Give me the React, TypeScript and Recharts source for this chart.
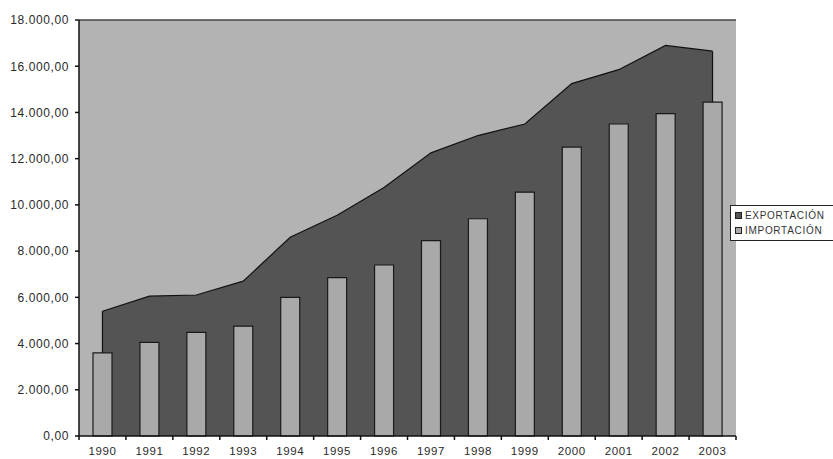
import {
  ComposedChart,
  Area,
  Bar,
  XAxis,
  YAxis,
  CartesianGrid,
  ReferenceLine,
  Legend
} from "recharts";

const years = [
  "1990", "1991", "1992", "1993", "1994", "1995", "1996",
  "1997", "1998", "1999", "2000", "2001", "2002", "2003"
];

const exportacion = [
  5400, 6050, 6100, 6700, 8600, 9550, 10750,
  12250, 13000, 13500, 15250, 15850, 16900, 16650
];

const importacion = [
  3600, 4050, 4480, 4750, 6000, 6850, 7400,
  8450, 9400, 10550, 12500, 13500, 13950, 14450
];

const yTicks = [0, 2000, 4000, 6000, 8000, 10000, 12000, 14000, 16000, 18000];

const data = years.map((year, i) => ({
  year,
  exportacion: exportacion[i],
  importacion: importacion[i]
}));

const FONT = "'Liberation Sans', Arial, sans-serif";
const BG = "#b3b3b3";
const DARK = "#545454";
const LIGHT = "#a9a9a9";
const INK = "#2a2a2a";

const CHART_W = 833;
const CHART_H = 459;
const MARGIN = { top: 20, right: 97, bottom: 0, left: 0 };
const Y_AXIS_W = 79;
const X_TICK_MARGIN = 11;
// width of one year slot, used for the marks at the slot edges
const SLOT = (CHART_W - MARGIN.left - MARGIN.right - Y_AXIS_W) / years.length;

// 12345.6 -> "12.345,60"
function formatNumber(value: number) {
  const [int, dec] = value.toFixed(2).split(".");
  return int.replace(/\B(?=(\d{3})+(?!\d))/g, ".") + "," + dec;
}

function YTick(props: any) {
  const { x, y, payload } = props;
  return (
    <text
      x={x}
      y={y}
      dy="0.36em"
      textAnchor="end"
      fill={INK}
      fontSize={12}
      fontFamily={FONT}
      letterSpacing={0.6}
    >
      {formatNumber(payload.value)}
    </text>
  );
}

function XTick(props: any) {
  const { x, y, payload, index } = props;
  const half = payload.offset > 0 ? payload.offset : SLOT / 2;
  const axisY = y - X_TICK_MARGIN;
  const edges = index === years.length - 1 ? [x - half, x + half] : [x - half];
  return (
    <g>
      {edges.map((ex) => (
        <line
          key={ex}
          x1={ex}
          x2={ex}
          y1={axisY}
          y2={axisY + 4}
          stroke="#111"
          strokeWidth={1.5}
        />
      ))}
      <text
        x={x}
        y={y}
        dy="0.71em"
        textAnchor="middle"
        fill={INK}
        fontSize={11.5}
        fontFamily={FONT}
        letterSpacing={0.6}
      >
        {payload.value}
      </text>
    </g>
  );
}

function LegendBox() {
  const items = [
    { name: "EXPORTACIÓN", color: DARK },
    { name: "IMPORTACIÓN", color: LIGHT }
  ];
  return (
    <div
      style={{
        border: "1px solid #222",
        background: "#fff",
        padding: "2px 0 2px 4px",
        width: 110,
        fontFamily: FONT,
        fontSize: 10,
        letterSpacing: 0.7,
        color: "#333"
      }}
    >
      {items.map((item) => (
        <div
          key={item.name}
          style={{ display: "flex", alignItems: "center", height: 15 }}
        >
          <span
            style={{
              display: "inline-block",
              width: 5,
              height: 5,
              background: item.color,
              border: "1px solid #222",
              marginRight: 3
            }}
          />
          {item.name}
        </div>
      ))}
    </div>
  );
}

export default function App() {
  return (
    <div style={{ position: "absolute", left: 0, top: 0, background: "#fff" }}>
      <ComposedChart
        width={CHART_W}
        height={CHART_H}
        data={data}
        margin={MARGIN}
      >
        <CartesianGrid
          fill={BG}
          horizontal={false}
          vertical={false}
        />
        <XAxis
          dataKey="year"
          height={23}
          tickSize={0}
          tickMargin={X_TICK_MARGIN}
          tickLine={false}
          axisLine={{ stroke: "#111", strokeWidth: 1.5 }}
          tick={XTick}
          interval={0}
        />
        <YAxis
          width={Y_AXIS_W}
          domain={[0, 18000]}
          ticks={yTicks}
          tickSize={4}
          tickMargin={6}
          axisLine={{ stroke: "#111", strokeWidth: 1.5 }}
          tickLine={{ stroke: "#111", strokeWidth: 1.5 }}
          tick={YTick}
        />
        <YAxis
          yAxisId="edge"
          orientation="right"
          width={0}
          tick={false}
          tickLine={false}
          axisLine={{ stroke: "#8a8a8a", strokeWidth: 1.5 }}
        />
        <Legend
          layout="vertical"
          align="center"
          verticalAlign="middle"
          content={() => <LegendBox />}
          wrapperStyle={{ position: "absolute", left: 730, top: 205, width: 120 }}
        />
        <Area
          type="linear"
          dataKey="exportacion"
          name="EXPORTACIÓN"
          fill={DARK}
          fillOpacity={1}
          stroke="#111"
          strokeWidth={1.2}
          isAnimationActive={false}
        />
        <Bar
          dataKey="importacion"
          name="IMPORTACIÓN"
          barSize={19}
          fill={LIGHT}
          stroke="#1a1a1a"
          strokeWidth={1.2}
          isAnimationActive={false}
        />
        {/* closing edges of the area above the first and last bars */}
        <ReferenceLine
          segment={[
            { x: years[0], y: importacion[0] },
            { x: years[0], y: exportacion[0] }
          ]}
          stroke="#111"
          strokeWidth={1.2}
        />
        <ReferenceLine
          segment={[
            { x: years[years.length - 1], y: importacion[years.length - 1] },
            { x: years[years.length - 1], y: exportacion[years.length - 1] }
          ]}
          stroke="#111"
          strokeWidth={1.2}
        />
        <ReferenceLine y={18000} stroke="#444" strokeWidth={1.5} />
      </ComposedChart>
    </div>
  );
}
